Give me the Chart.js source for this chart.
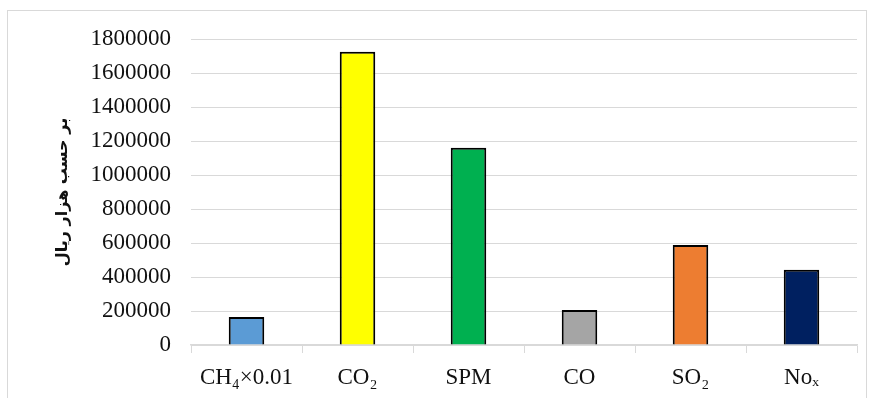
<!DOCTYPE html>
<html>
<head>
<meta charset="utf-8">
<script src="https://cdn.jsdelivr.net/npm/chart.js@4"></script>
<style>
  html, body { margin: 0; padding: 0; background: #fff; }
  body { width: 875px; height: 398px; overflow: hidden; position: relative; }
  #frame { position: absolute; left: 7px; top: 10px; width: 860px; height: 400px; border: 1px solid #d9d9d9; box-sizing: border-box; }
  #wrap { position: absolute; left: 0; top: 0; width: 875px; height: 398px; }
</style>
</head>
<body>
<div id="frame"></div>
<div id="wrap"><canvas id="chart"></canvas></div>
<script>
const labels = ["CH\u2084\u00d70.01", "CO\u2082", "SPM", "CO", "SO\u2082", "No\u2093"];
const values = [165000, 1725000, 1161000, 206000, 588000, 443000];
const barColors = ["#5b9bd5", "#ffff00", "#00b050", "#a5a5a5", "#ed7d31", "#002060"];
const yTitle = "بر حسب هزار ریال";

document.addEventListener("DOMContentLoaded", () => {
    const ctx = document.getElementById("chart");
    const tickFont = { family: "'Liberation Serif', 'Times New Roman', serif", size: 23 };

    new Chart(ctx, {
        type: "bar",
        data: {
            labels,
            datasets: [{
                data: values,
                backgroundColor: barColors,
                borderColor: "#000",
                borderWidth: 2,
                barPercentage: 0.32,
                categoryPercentage: 1
            }]
        },
        options: {
            responsive: true,
            maintainAspectRatio: false,
            animation: false,
            layout: { padding: { left: 53, right: 18, top: 39, bottom: 2 } },
            plugins: {
                legend: { display: false },
                tooltip: { enabled: false }
            },
            scales: {
                x: {
                    grid: {
                        offset: true,
                        drawOnChartArea: false,
                        drawTicks: true,
                        tickLength: 8,
                        color: "#d9d9d9"
                    },
                    border: { display: true, color: "#d9d9d9", width: 1.5 },
                    ticks: { color: "#111", font: tickFont, padding: 11, maxRotation: 0 },
                    afterFit: (scale) => { scale.height = 51; }
                },
                y: {
                    min: 0,
                    max: 1800000,
                    ticks: {
                        stepSize: 200000,
                        color: "#111",
                        font: tickFont,
                        padding: 20,
                        callback: (v) => String(v)
                    },
                    grid: { color: "#d9d9d9", drawTicks: false },
                    border: { display: false },
                    title: {
                        display: true,
                        text: yTitle,
                        color: "#111",
                        font: { family: "'DejaVu Sans', sans-serif", size: 16, weight: "bold" },
                        padding: 0
                    },
                    afterFit: (scale) => { scale.width = 191 - 53; }
                }
            }
        }
    });
});
</script>
</body>
</html>
